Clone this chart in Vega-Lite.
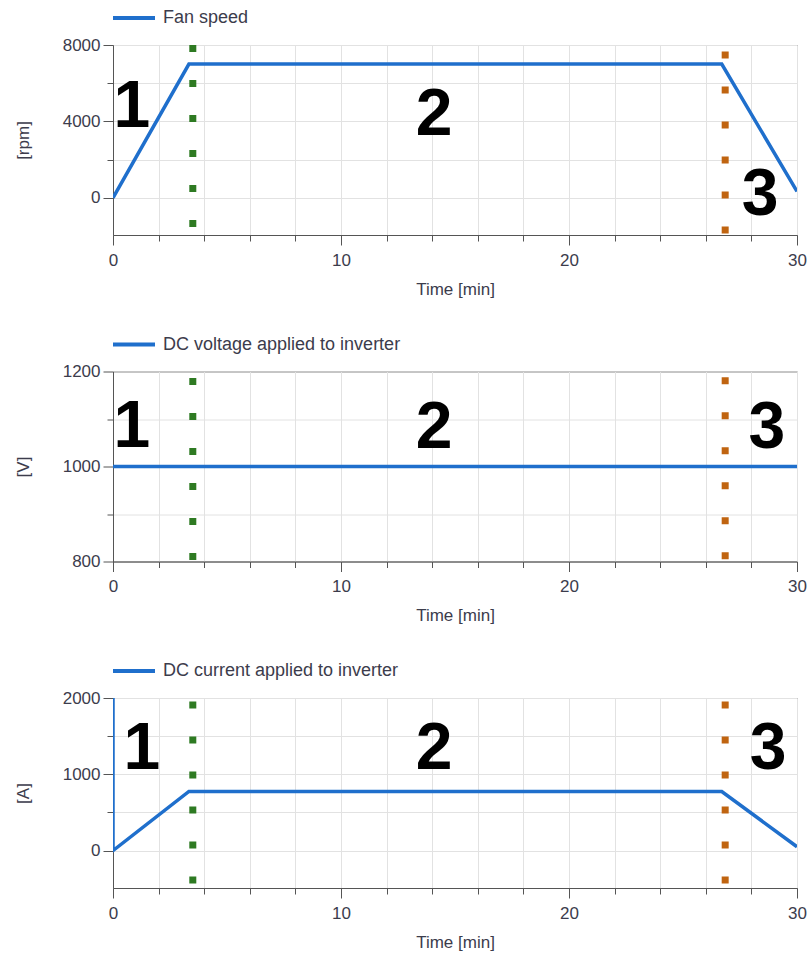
{
  "$schema": "https://vega.github.io/schema/vega-lite/v6.json",
  "background": "white",
  "padding": {"left": 13, "top": 8, "right": 5, "bottom": 5},
  "spacing": 36.5,
  "resolve": {"scale": {"color": "independent", "x": "independent", "y": "independent"}, "legend": {"color": "independent"}},
  "config": {
    "font": "Liberation Sans",
    "view": {"stroke": "#555555", "strokeWidth": 1},
    "axis": {
      "labelFont": "Liberation Sans", "labelFontSize": 17, "labelColor": "#3c3c4c", "labelFlush": false, "labelOverlap": false, "format": "d",
      "titleFont": "Liberation Sans", "titleFontSize": 17, "titleFontWeight": "normal", "titleColor": "#3c3c4c",
      "domainColor": "#555555", "tickColor": "#555555", "gridColor": "#e2e2e2", "gridWidth": 1
    },
    "axisX": {"labelPadding": 7, "titlePadding": 13},
    "axisY": {"labelPadding": 3, "titlePadding": 30},
    "legend": {"orient": "top", "labelFont": "Liberation Sans", "labelFontSize": 18, "labelColor": "#3c3c4c", "labelLimit": 0, "symbolType": "M-1.8,0H6.6", "symbolSize": 100, "symbolStrokeWidth": 4, "labelOffset": 32, "offset": 18, "padding": 0}
  },
  "vconcat": [
    {
      "width": 684, "height": 190,
      "layer": [
        {
          "data": {"values": [
            {"t": 0, "v": 0, "series": "Fan speed"},
            {"t": 3.33, "v": 7000, "series": "Fan speed"},
            {"t": 26.7, "v": 7000, "series": "Fan speed"},
            {"t": 30, "v": 330, "series": "Fan speed"}
          ]},
          "mark": {"type": "line", "strokeWidth": 3.5, "clip": true},
          "encoding": {
            "x": {"field": "t", "type": "quantitative", "title": "Time [min]", "scale": {"domain": [0, 30], "nice": false, "zero": false},
              "axis": {"values": [0,2,4,6,8,10,12,14,16,18,20,22,24,26,28,30], "labelExpr": "datum.value % 10 === 0 ? datum.label : ''", "tickSize": {"condition": {"test": "datum.value % 10 === 0", "value": 10}, "value": 6}}},
            "y": {"field": "v", "type": "quantitative", "title": "[rpm]", "scale": {"domain": [-1950, 8000], "nice": false, "zero": false},
              "axis": {"values": [0, 2000, 4000, 6000, 8000], "labelExpr": "datum.value % 4000 === 0 ? datum.label : ''", "tickSize": {"condition": {"test": "datum.value % 4000 === 0", "value": 10}, "value": 6}}},
            "color": {"field": "series", "type": "nominal", "scale": {"range": ["#1f6fcc"]}, "legend": {"title": null}}
          }
        },
        {
          "data": {"values": [{"t": 3.5, "top": 8000, "bottom": -1950}]},
          "mark": {"type": "rule", "color": "#2e7a22", "strokeWidth": 7, "strokeDash": [7, 28], "strokeDashOffset": 0},
          "encoding": {"x": {"field": "t", "type": "quantitative", "title": "Time [min]"}, "y": {"field": "top", "type": "quantitative", "title": "[rpm]"}, "y2": {"field": "bottom"}}
        },
        {
          "data": {"values": [{"t": 26.85, "top": 8000, "bottom": -1950}]},
          "mark": {"type": "rule", "color": "#c06410", "strokeWidth": 7, "strokeDash": [7, 28], "strokeDashOffset": 28.5},
          "encoding": {"x": {"field": "t", "type": "quantitative", "title": "Time [min]"}, "y": {"field": "top", "type": "quantitative", "title": "[rpm]"}, "y2": {"field": "bottom"}}
        },
        {
          "data": {"values": [
            {"t": 0.83, "v": 3700, "label": "1"},
            {"t": 14.08, "v": 3294, "label": "2"},
            {"t": 28.38, "v": -889, "label": "3"}
          ]},
          "mark": {"type": "text", "font": "Liberation Sans", "fontSize": 66, "fontWeight": "bold", "baseline": "alphabetic", "align": "center", "color": "#000000"},
          "encoding": {"x": {"field": "t", "type": "quantitative", "title": "Time [min]"}, "y": {"field": "v", "type": "quantitative", "title": "[rpm]"}, "text": {"field": "label"}}
        }
      ]
    },
    {
      "width": 684, "height": 190,
      "layer": [
        {
          "data": {"values": [
            {"t": 0, "v": 1000, "series": "DC voltage applied to inverter"},
            {"t": 30, "v": 1000, "series": "DC voltage applied to inverter"}
          ]},
          "mark": {"type": "line", "strokeWidth": 3.5, "clip": true},
          "encoding": {
            "x": {"field": "t", "type": "quantitative", "title": "Time [min]", "scale": {"domain": [0, 30], "nice": false, "zero": false},
              "axis": {"values": [0,2,4,6,8,10,12,14,16,18,20,22,24,26,28,30], "labelExpr": "datum.value % 10 === 0 ? datum.label : ''", "tickSize": {"condition": {"test": "datum.value % 10 === 0", "value": 10}, "value": 6}}},
            "y": {"field": "v", "type": "quantitative", "title": "[V]", "scale": {"domain": [800, 1200], "nice": false, "zero": false},
              "axis": {"values": [800, 900, 1000, 1100, 1200], "labelExpr": "datum.value % 200 === 0 ? datum.label : ''", "tickSize": {"condition": {"test": "datum.value % 200 === 0", "value": 10}, "value": 6}}},
            "color": {"field": "series", "type": "nominal", "scale": {"range": ["#1f6fcc"]}, "legend": {"title": null}}
          }
        },
        {
          "data": {"values": [{"t": 3.5, "top": 1200, "bottom": 800}]},
          "mark": {"type": "rule", "color": "#2e7a22", "strokeWidth": 7, "strokeDash": [7, 28], "strokeDashOffset": 28.4},
          "encoding": {"x": {"field": "t", "type": "quantitative", "title": "Time [min]"}, "y": {"field": "top", "type": "quantitative", "title": "[V]"}, "y2": {"field": "bottom"}}
        },
        {
          "data": {"values": [{"t": 26.85, "top": 1200, "bottom": 800}]},
          "mark": {"type": "rule", "color": "#c06410", "strokeWidth": 7, "strokeDash": [7, 28], "strokeDashOffset": 29.2},
          "encoding": {"x": {"field": "t", "type": "quantitative", "title": "Time [min]"}, "y": {"field": "top", "type": "quantitative", "title": "[V]"}, "y2": {"field": "bottom"}}
        },
        {
          "data": {"values": [
            {"t": 0.83, "v": 1041, "label": "1"},
            {"t": 14.08, "v": 1040, "label": "2"},
            {"t": 28.68, "v": 1040, "label": "3"}
          ]},
          "mark": {"type": "text", "font": "Liberation Sans", "fontSize": 66, "fontWeight": "bold", "baseline": "alphabetic", "align": "center", "color": "#000000"},
          "encoding": {"x": {"field": "t", "type": "quantitative", "title": "Time [min]"}, "y": {"field": "v", "type": "quantitative", "title": "[V]"}, "text": {"field": "label"}}
        }
      ]
    },
    {
      "width": 684, "height": 190,
      "layer": [
        {
          "data": {"values": [
            {"t": 0, "v": 2600, "o": 0, "series": "DC current applied to inverter"},
            {"t": 0, "v": 0, "o": 1, "series": "DC current applied to inverter"},
            {"t": 3.33, "v": 775, "o": 2, "series": "DC current applied to inverter"},
            {"t": 26.7, "v": 775, "o": 3, "series": "DC current applied to inverter"},
            {"t": 30, "v": 50, "o": 4, "series": "DC current applied to inverter"}
          ]},
          "mark": {"type": "line", "strokeWidth": 3.5, "clip": true},
          "encoding": {
            "x": {"field": "t", "type": "quantitative", "title": "Time [min]", "scale": {"domain": [0, 30], "nice": false, "zero": false},
              "axis": {"values": [0,2,4,6,8,10,12,14,16,18,20,22,24,26,28,30], "labelExpr": "datum.value % 10 === 0 ? datum.label : ''", "tickSize": {"condition": {"test": "datum.value % 10 === 0", "value": 10}, "value": 6}}},
            "y": {"field": "v", "type": "quantitative", "title": "[A]", "scale": {"domain": [-490, 2000], "nice": false, "zero": false},
              "axis": {"values": [0, 500, 1000, 1500, 2000], "labelExpr": "datum.value % 1000 === 0 ? datum.label : ''", "tickSize": {"condition": {"test": "datum.value % 1000 === 0", "value": 10}, "value": 6}}},
            "order": {"field": "o", "type": "quantitative"},
            "color": {"field": "series", "type": "nominal", "scale": {"range": ["#1f6fcc"]}, "legend": {"title": null}}
          }
        },
        {
          "data": {"values": [{"t": 3.5, "top": 2000, "bottom": -490}]},
          "mark": {"type": "rule", "color": "#2e7a22", "strokeWidth": 7, "strokeDash": [7, 28], "strokeDashOffset": 31.6},
          "encoding": {"x": {"field": "t", "type": "quantitative", "title": "Time [min]"}, "y": {"field": "top", "type": "quantitative", "title": "[A]"}, "y2": {"field": "bottom"}}
        },
        {
          "data": {"values": [{"t": 26.85, "top": 2000, "bottom": -490}]},
          "mark": {"type": "rule", "color": "#c06410", "strokeWidth": 7, "strokeDash": [7, 28], "strokeDashOffset": 31.6},
          "encoding": {"x": {"field": "t", "type": "quantitative", "title": "Time [min]"}, "y": {"field": "top", "type": "quantitative", "title": "[A]"}, "y2": {"field": "bottom"}}
        },
        {
          "data": {"values": [
            {"t": 1.27, "v": 1074, "label": "1"},
            {"t": 14.08, "v": 1074, "label": "2"},
            {"t": 28.73, "v": 1074, "label": "3"}
          ]},
          "mark": {"type": "text", "font": "Liberation Sans", "fontSize": 66, "fontWeight": "bold", "baseline": "alphabetic", "align": "center", "color": "#000000"},
          "encoding": {"x": {"field": "t", "type": "quantitative", "title": "Time [min]"}, "y": {"field": "v", "type": "quantitative", "title": "[A]"}, "text": {"field": "label"}}
        }
      ]
    }
  ]
}
